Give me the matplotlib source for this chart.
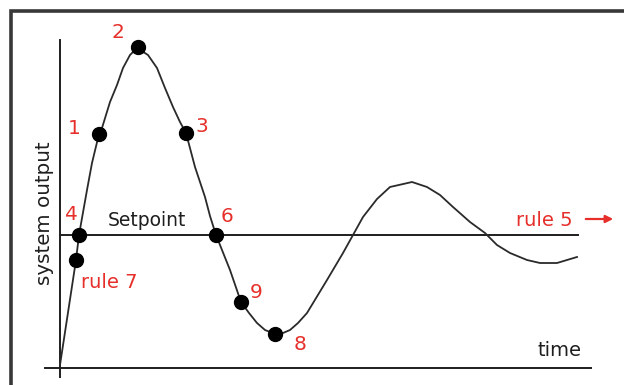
import numpy as np
import matplotlib
matplotlib.use('Agg')
import matplotlib.pyplot as plt

# system response curve (time, output), setpoint = 133
curve_t = [0, 16, 19, 27, 32, 39, 42, 50, 57, 63, 70, 77, 88, 97, 105, 113, 120, 126,
           135, 140, 145, 150, 156, 170, 181, 189, 197, 205, 215, 223, 230, 238, 247,
           267, 283, 293, 303, 317, 330, 352, 367, 380, 393, 410, 425, 437, 450,
           467, 480, 497, 517]
curve_y = [3, 108, 133, 178, 205, 234, 240, 266, 283, 300, 313, 320, 313, 300, 280, 261, 246, 235,
           201, 186, 171, 152, 133, 98, 66, 55, 45, 38, 34, 35, 38, 45, 55,
           88, 115, 133, 151, 169, 181, 186, 181, 173, 161, 146, 135, 123, 115,
           108, 105, 105, 111]

setpoint = 133

# marked points: rule numbers and the rule 7 point
pt_labels = ['1', '2', '3', '4', '6', '9', '8', '']
pt_t = [39, 78, 126, 19, 156, 181, 215, 16]
pt_y = [234, 321, 235, 133, 133, 66, 34, 108]
# where each number is written
lab_t = [14, 58, 142, 11, 167, 196, 240, 0]
lab_y = [240, 335, 242, 153, 152, 75, 23, 0]

red = '#e62f2a'
ink = '#1e1e1e'

fig = plt.figure(figsize=(6.24, 3.85), dpi=100)
ax = fig.add_axes([0, 0, 1, 1])
ax.set_xlim(-60, 564)
ax.set_ylim(-17, 368)
ax.axis('off')

# frame (top and left only)
ax.plot([-49, -49, 564], [-17, 357, 357], color='#383838', lw=2.6,
        solid_capstyle='butt', solid_joinstyle='miter')

# axes
ax.plot([0, 0], [-9, 328], color=ink, lw=1.4)
ax.plot([-15, 531], [0, 0], color=ink, lw=1.4)
ax.plot([0, 518], [setpoint, setpoint], color=ink, lw=1.4)

# response
ax.plot(curve_t, curve_y, color='#2a2a2a', lw=1.3, solid_joinstyle='round')
ax.plot(pt_t, pt_y, 'o', color='black', ms=10, zorder=5)

for lab, x, y in zip(pt_labels, lab_t, lab_y):
    if lab:
        ax.text(x, y, lab, color=red, fontsize=14.5, ha='center', va='center')

ax.text(21, 85, 'rule 7', color=red, fontsize=14, ha='left', va='center')
ax.text(484, 148, 'rule 5', color=red, fontsize=14, ha='center', va='center')
ax.annotate('', xy=(556, 149), xytext=(523, 149),
            arrowprops=dict(arrowstyle='-|>', color=red, lw=1.6, mutation_scale=11))

ax.text(87, 147, 'Setpoint', color=ink, fontsize=13.5, ha='center', va='center')
ax.text(500, 18, 'time', color=ink, fontsize=14, ha='center', va='center')
ax.text(-15, 155, 'system output', color=ink, fontsize=14.3, ha='center',
        va='center', rotation=90)

fig.savefig('out.png', dpi=100)
